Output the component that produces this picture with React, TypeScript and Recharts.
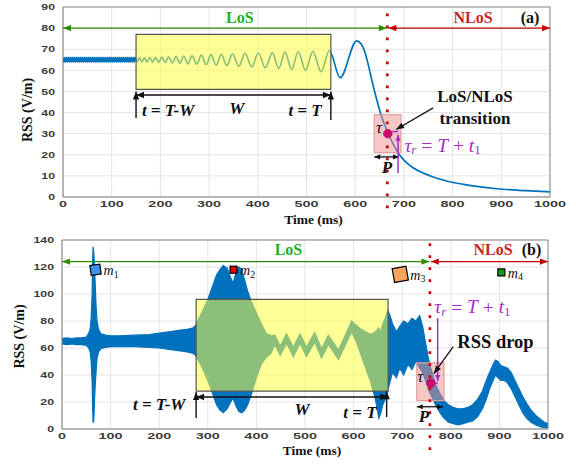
import React from 'react';
import {
  ComposedChart, Line, Area, XAxis, YAxis, CartesianGrid,
  ReferenceArea, ReferenceLine, ReferenceDot,
} from 'recharts';

// ---------- data ----------
const X_TICKS = [0, 100, 200, 300, 400, 500, 600, 700, 800, 900, 1000];
const A_Y_TICKS = [0, 10, 20, 30, 40, 50, 60, 70, 80, 90];
const B_Y_TICKS = [0, 20, 40, 60, 80, 100, 120, 140];

// panel (a): RSS in LoS then transition to NLoS
const aTime = [
  0, 2, 4, 6, 8, 10, 12, 14, 16, 18, 20, 22, 24, 26, 28, 30, 32, 34, 36, 38,
  40, 42, 44, 46, 48, 50, 52, 54, 56, 58, 60, 62, 64, 66, 68, 70, 72, 74, 76, 78,
  80, 82, 84, 86, 88, 90, 92, 94, 96, 98, 100, 102, 104, 106, 108, 110, 112, 114, 116, 118,
  120, 122, 124, 126, 128, 130, 132, 134, 136, 138, 140, 142, 144, 146, 148,
  152.5, 157, 162, 167, 172.5, 178, 184, 190, 196.5, 203, 210, 217, 224.5, 232, 240, 248,
  256.5, 265, 274.5, 284, 294, 304, 314.5, 325, 336.5, 348, 361, 374, 387.5, 401, 415.5,
  430, 443, 456, 469.5, 483, 498, 513, 530, 547, 569, 603,
  612, 620, 628, 635, 645, 655, 667, 678, 688, 700, 718, 740, 760, 788, 820, 850, 891, 950, 1000,
];
const aRss = [
  66.1, 63.9, 66.1, 63.9, 66.1, 63.9, 66.1, 63.9, 66.1, 63.9, 66.1, 63.9, 66.1, 63.9, 66.1, 63.9, 66.1, 63.9, 66.1, 63.9,
  66.1, 63.9, 66.1, 63.9, 66.1, 63.9, 66.1, 63.9, 66.1, 63.9, 66.1, 63.9, 66.1, 63.9, 66.1, 63.9, 66.1, 63.9, 66.1, 63.9,
  66.1, 63.9, 66.1, 63.9, 66.1, 63.9, 66.1, 63.9, 66.1, 63.9, 66.1, 63.9, 66.1, 63.9, 66.1, 63.9, 66.1, 63.9, 66.1, 63.9,
  66.1, 63.9, 66.1, 63.9, 66.1, 63.9, 66.1, 63.9, 66.1, 63.9, 66.1, 63.9, 66.1, 63.9, 66.1,
  64.0, 66.0, 64.0, 66.0, 63.9, 66.1, 63.9, 66.2, 63.8, 66.3, 63.7, 66.4, 63.5, 66.6, 63.3, 66.8,
  63.1, 67.0, 62.9, 67.2, 62.7, 67.4, 62.4, 67.6, 62.2, 67.8, 61.9, 68.0, 61.6, 68.2, 61.2,
  68.4, 60.8, 68.6, 60.4, 68.8, 60.0, 69.0, 59.3, 69.4, 56.5, 74.0,
  72.6, 68.5, 61.5, 54.5, 45.5, 37.5, 30.5, 25, 21, 17.5, 14, 11.3, 9.5, 7.6, 6.1, 5.0, 3.9, 3.0, 2.4,
];

// panel (b): noisy RSS, envelope (low / high) of the measured signal
const bTime = [
  0, 10, 20, 30, 40, 50, 55, 58, 60, 62, 63, 64, 65, 66, 67, 68, 70, 72, 75, 80,
  90, 100, 120, 150, 180, 200, 220, 240, 260, 270, 276, 282, 290, 300, 310, 318, 325, 332, 340, 347,
  352, 358, 364, 370, 376, 382, 390, 400, 410, 420, 430, 438, 449, 462, 476, 490, 503, 520, 534, 548,
  569, 596, 605, 615, 625, 635, 645, 652, 656, 660, 665, 670, 675, 680, 688, 695, 703, 712, 720, 728,
  736, 742, 748, 753, 758, 763, 770, 778, 786, 795, 805, 815, 825, 835, 845, 855, 865, 873, 880, 887,
  892, 897, 903, 910, 917, 924, 932, 940, 948, 956, 965, 975, 985, 993, 1000,
];
const bLow = [
  63, 62.5, 63, 62.5, 62.5, 62, 60, 57, 50, 35, 15, 5, 5, 12, 22, 30, 42, 52, 57, 59.5,
  60.5, 61, 61, 61, 60.5, 60, 59, 58, 57, 56, 54, 50, 44, 36, 26, 18, 14, 12, 15, 20,
  23, 17, 13, 12, 14, 18, 26, 38, 48, 53, 56, 62.5, 54.5, 63.5, 53.5, 63.5, 53.5, 64.5, 52.5, 62.5,
  51.5, 72, 65, 55, 45, 35, 22, 8, 12, 18, 22, 28, 35, 42, 38, 45, 40, 48, 44, 50,
  45, 42, 36, 30, 26, 22, 17, 12, 8, 5, 4, 3, 4, 5, 6, 9, 15, 22, 30, 36,
  40, 38, 36, 36, 34, 30, 24, 18, 12, 8, 5, 3, 1.5, 1, 1,
];
const bHigh = [
  67, 67.5, 67, 67.5, 67.5, 68, 71, 74, 82, 100, 125, 135, 132, 127, 120, 110, 92, 80, 74, 70.5,
  69.5, 69, 69, 69.5, 70, 71, 72, 73, 74, 75, 77, 82, 88, 96, 106, 114, 118, 121, 119, 112,
  108, 116, 120, 118, 110, 102, 94, 86, 78, 71, 69, 69.5, 61.5, 70.5, 60.5, 70.5, 60.5, 71.5, 59.5, 69.5,
  58.5, 80, 77, 74, 72, 70, 72, 75, 72, 78, 82, 88, 84, 78, 72, 76, 80, 78, 82, 80,
  84, 76, 64, 54, 46, 40, 32, 26, 21, 18, 16, 15, 15, 16, 18, 22, 28, 36, 42, 48,
  51, 50, 47, 46, 45, 42, 36, 30, 24, 19, 14, 10, 7, 5, 4,
];

const markerNames = ['1', '2', '3', '4'];
const markerTime = [69, 353, 696, 904];
const markerRss = [118, 118, 114.5, 116];
const markerColors = ['#3a92ea', '#e40000', '#f7a35c', '#139a13'];
const markerSizes = [10, 7, 14, 7];
const markerTilt = [-8, 0, -10, 0];

const aData = aTime.map((t, i) => ({ t, rss: aRss[i] }));
const bData = bTime.map((t, i) => ({ t, band: [bLow[i], bHigh[i]] }));

// ---------- styles / helpers ----------
const SERIF = '"Liberation Serif", "Times New Roman", serif';
const SANS = '"Liberation Sans", Arial, sans-serif';
const BLUE = '#0072bd';
const GREEN_ARROW = '#2f8a00';
const RED_ARROW = '#c40000';
const PURPLE = '#a22fc2';

const XTick = (props: any) => {
  const { x, y, payload } = props;
  return (
    <text transform={`translate(${x},${y + 7.5}) scale(1.7,1)`} textAnchor="middle"
      dominantBaseline="central" fontFamily={SANS} fontWeight="bold" fontSize={8.5} fill="#3c3c3c">
      {payload.value}
    </text>
  );
};
const YTick = (props: any) => {
  const { x, y, payload } = props;
  return (
    <text transform={`translate(${x - 8},${y}) scale(1.45,1)`} textAnchor="end"
      dominantBaseline="central" fontFamily={SANS} fontWeight="bold" fontSize={8.5} fill="#3c3c3c">
      {payload.value}
    </text>
  );
};

function arrowShape(color: string, start: boolean, end: boolean, width = 1.3, headLen = 8, headW = 3.2) {
  return (p: any) => {
    const { x1, y1, x2, y2 } = p;
    const dx = x2 - x1, dy = y2 - y1;
    const len = Math.hypot(dx, dy) || 1;
    const ux = dx / len, uy = dy / len;
    const head = (tx: number, ty: number, dirx: number, diry: number) => {
      const bx = tx - dirx * headLen, by = ty - diry * headLen;
      const px = -diry * headW, py = dirx * headW;
      return <polygon points={`${tx},${ty} ${bx + px},${by + py} ${bx - px},${by - py}`} fill={color} />;
    };
    return (
      <g>
        <line x1={x1} y1={y1} x2={x2} y2={y2} stroke={color} strokeWidth={width} />
        {start && head(x1, y1, -ux, -uy)}
        {end && head(x2, y2, ux, uy)}
      </g>
    );
  };
}

function textShape(content: React.ReactNode, style: any, anchor = 'middle') {
  return (p: any) => (
    <text x={p.cx} y={p.cy} textAnchor={anchor} dominantBaseline="central" fontFamily={SERIF} {...style}>
      {content}
    </text>
  );
}

const tauR = (
  <>
    τ<tspan dy={4} fontSize={13}>r</tspan>
    <tspan dy={-4} fontStyle="normal"> = </tspan>T<tspan fontStyle="normal"> + </tspan>t
    <tspan dy={4} fontSize={13} fontStyle="normal">1</tspan>
  </>
);

function markerShape(i: number) {
  return (p: any) => {
    const s = markerSizes[i];
    return (
      <g>
        <rect x={p.cx - s / 2} y={p.cy - s / 2} width={s} height={s} fill={markerColors[i]}
          stroke="#000" strokeWidth={1.2} transform={`rotate(${markerTilt[i]},${p.cx},${p.cy})`} />
        <text x={p.cx + s / 2 + 3} y={p.cy + 1} dominantBaseline="central" fontFamily={SERIF}
          fontStyle="italic" fontSize={14} fill="#111">
          m<tspan dy={3} fontSize={10} fontStyle="normal">{markerNames[i]}</tspan>
        </text>
      </g>
    );
  };
}

const yLabel = (cx: number, cyOff: number) => (p: any) => {
  const vb = p.viewBox || { x: 0, y: 0, width: 0, height: 0 };
  const cy = vb.y + vb.height / 2 + cyOff;
  return (
    <text transform={`translate(${cx},${cy}) rotate(-90)`} textAnchor="middle" dominantBaseline="central"
      fontFamily={SERIF} fontWeight="bold" fontSize={14} fill="#111">RSS (V/m)</text>
  );
};
const xLabel = (dyOff: number) => (p: any) => {
  const vb = p.viewBox || { x: 0, y: 0, width: 0, height: 0 };
  return (
    <text x={vb.x + vb.width / 2 + 7} y={vb.y + dyOff} textAnchor="middle" dominantBaseline="central"
      fontFamily={SERIF} fontWeight="bold" fontSize={13.5} fill="#111">Time (ms)</text>
  );
};

const TXT = { fontFamily: SERIF };

export default function App() {
  return (
    <div style={{ position: 'absolute', left: 0, top: 0, width: 576, height: 464, background: '#fff' }}>
      {/* ---------- panel (a) ---------- */}
      <div style={{ position: 'absolute', left: 0, top: 0 }}>
        <ComposedChart width={576} height={232} data={aData} margin={{ top: 7, right: 26, left: 13, bottom: 10 }}>
          <CartesianGrid stroke="#e4e4e4" />
          <XAxis dataKey="t" type="number" domain={[0, 1000]} ticks={X_TICKS} allowDataOverflow interval={0}
            tick={<XTick />} tickLine={false} tickSize={0} tickMargin={0} height={25}
            axisLine={{ stroke: '#7a7a7a' }} label={xLabel(22)} />
          <YAxis type="number" domain={[0, 90]} ticks={A_Y_TICKS} allowDataOverflow width={50} interval={0}
            tick={<YTick />} tickLine={false} tickSize={0} tickMargin={0}
            axisLine={{ stroke: '#7a7a7a' }} label={yLabel(27.5, 8)} />
          <ReferenceLine y={90} stroke="#8a8a8a" />
          <ReferenceLine x={1000} stroke="#8a8a8a" />
          <Line dataKey="rss" type="monotone" stroke={BLUE} strokeWidth={1.7} dot={false} isAnimationActive={false} />
          <ReferenceArea x1={150} x2={550} y1={51} y2={77} fill="#ffff44" fillOpacity={0.55}
            stroke="#555" strokeWidth={1.2} zIndex={450} />
          <ReferenceArea x1={639} x2={694} y1={21} y2={39} fill="#f09090" fillOpacity={0.5}
            stroke="#e0a0a0" strokeWidth={1.2} zIndex={450} />
          <ReferenceLine segment={[{ x: 666, y: -5.3 }, { x: 666, y: 87.5 }]} stroke="#cc0000"
            strokeWidth={2.7} strokeDasharray="2.7 9.3" ifOverflow="visible" zIndex={700} />
          <ReferenceLine segment={[{ x: 0, y: 80 }, { x: 665, y: 80 }]} ifOverflow="visible" zIndex={700}
            shape={arrowShape(GREEN_ARROW, true, true)} />
          <ReferenceLine segment={[{ x: 668, y: 80 }, { x: 1000, y: 80 }]} ifOverflow="visible" zIndex={700}
            shape={arrowShape(RED_ARROW, true, true)} />
          <ReferenceLine segment={[{ x: 150, y: 48.3 }, { x: 550, y: 48.3 }]} ifOverflow="visible" zIndex={700}
            shape={arrowShape('#111', true, true, 1.4)} />
          <ReferenceLine segment={[{ x: 150, y: 37.4 }, { x: 150, y: 50 }]} ifOverflow="visible" zIndex={700}
            shape={arrowShape('#111', false, true, 1.4)} />
          <ReferenceLine segment={[{ x: 550, y: 36.5 }, { x: 550, y: 50 }]} ifOverflow="visible" zIndex={700}
            shape={arrowShape('#111', false, true, 1.4)} />
          <ReferenceLine segment={[{ x: 639, y: 19 }, { x: 690, y: 19 }]} ifOverflow="visible" zIndex={700}
            shape={arrowShape('#111', true, true, 1.3, 6, 2.6)} />
          <ReferenceLine segment={[{ x: 688, y: 11.4 }, { x: 688, y: 29.5 }]} ifOverflow="visible" zIndex={700}
            shape={arrowShape(PURPLE, false, true, 1.5, 6, 2.6)} />
          <ReferenceLine segment={[{ x: 676, y: 31 }, { x: 688, y: 31 }]} ifOverflow="visible" zIndex={700}
            stroke={PURPLE} strokeWidth={1.5} />
          <ReferenceLine segment={[{ x: 760, y: 42.2 }, { x: 684, y: 32 }]} ifOverflow="visible" zIndex={700}
            shape={arrowShape('#111', false, true, 1.3, 8, 3)} />
          <ReferenceDot x={667} y={30} r={4.2} fill="#cc0a6e" stroke="#cc0a6e" zIndex={750} ifOverflow="visible" />
          <ReferenceDot x={363} y={84.8} ifOverflow="visible" zIndex={800}
            shape={textShape('LoS', { ...TXT, fill: '#20b020', fontSize: 16, fontWeight: 'bold' })} />
          <ReferenceDot x={842} y={84.8} ifOverflow="visible" zIndex={800}
            shape={textShape('NLoS', { ...TXT, fill: '#cc1f1f', fontSize: 16, fontWeight: 'bold' })} />
          <ReferenceDot x={959} y={84.8} ifOverflow="visible" zIndex={800}
            shape={textShape('(a)', { ...TXT, fill: '#111', fontSize: 16, fontWeight: 'bold' })} />
          <ReferenceDot x={162} y={41} ifOverflow="visible" zIndex={800}
            shape={textShape('t = T-W', { ...TXT, fill: '#111', fontSize: 17, fontWeight: 'bold', fontStyle: 'italic' }, 'start')} />
          <ReferenceDot x={357} y={42} ifOverflow="visible" zIndex={800}
            shape={textShape('W', { ...TXT, fill: '#111', fontSize: 17, fontWeight: 'bold', fontStyle: 'italic' })} />
          <ReferenceDot x={497} y={41} ifOverflow="visible" zIndex={800}
            shape={textShape('t = T', { ...TXT, fill: '#111', fontSize: 17, fontWeight: 'bold', fontStyle: 'italic' })} />
          <ReferenceDot x={649} y={33} ifOverflow="visible" zIndex={800}
            shape={textShape('τ', { ...TXT, fill: '#111', fontSize: 17, fontStyle: 'italic' })} />
          <ReferenceDot x={701} y={24.6} ifOverflow="visible" zIndex={800}
            shape={textShape(tauR, { ...TXT, fill: PURPLE, fontSize: 19.5, fontStyle: 'italic' }, 'start')} />
          <ReferenceDot x={665} y={14} ifOverflow="visible" zIndex={800}
            shape={textShape('P', { ...TXT, fill: '#111', fontSize: 17, fontWeight: 'bold', fontStyle: 'italic' })} />
          <ReferenceDot x={846} y={47.4} ifOverflow="visible" zIndex={800}
            shape={textShape('LoS/NLoS', { ...TXT, fill: '#111', fontSize: 17, fontWeight: 'bold' })} />
          <ReferenceDot x={846} y={37.4} ifOverflow="visible" zIndex={800}
            shape={textShape('transition', { ...TXT, fill: '#111', fontSize: 17, fontWeight: 'bold' })} />
        </ComposedChart>
      </div>

      {/* ---------- panel (b) ---------- */}
      <div style={{ position: 'absolute', left: 0, top: 232 }}>
        <ComposedChart width={576} height={232} data={bData} margin={{ top: 8, right: 28, left: 12, bottom: 10 }}>
          <CartesianGrid stroke="#e4e4e4" />
          <XAxis dataKey="t" type="number" domain={[0, 1000]} ticks={X_TICKS} allowDataOverflow interval={0}
            tick={<XTick />} tickLine={false} tickSize={0} tickMargin={0} height={25}
            axisLine={{ stroke: '#7a7a7a' }} label={xLabel(21)} />
          <YAxis type="number" domain={[0, 140]} ticks={B_Y_TICKS} allowDataOverflow width={50} interval={0}
            tick={<YTick />} tickLine={false} tickSize={0} tickMargin={0}
            axisLine={{ stroke: '#7a7a7a' }} label={yLabel(19.5, 2)} />
          <ReferenceLine y={140} stroke="#8a8a8a" />
          <ReferenceLine x={1000} stroke="#8a8a8a" />
          <Area dataKey="band" type="linear" stroke={BLUE} strokeWidth={1.2} fill={BLUE} fillOpacity={1}
            dot={false} activeDot={false} isAnimationActive={false} />
          <ReferenceArea x1={276} x2={671} y1={28} y2={96} fill="#ffff44" fillOpacity={0.55}
            stroke="#555" strokeWidth={1.2} zIndex={450} />
          <ReferenceArea x1={730} x2={786} y1={21} y2={49} fill="#f09090" fillOpacity={0.5}
            stroke="#e0a0a0" strokeWidth={1.2} zIndex={450} />
          <ReferenceLine segment={[{ x: 757, y: -15.6 }, { x: 757, y: 138.5 }]} stroke="#cc0000"
            strokeWidth={2.7} strokeDasharray="2.7 9.3" ifOverflow="visible" zIndex={700} />
          <ReferenceLine segment={[{ x: 0, y: 124 }, { x: 756, y: 124 }]} ifOverflow="visible" zIndex={700}
            shape={arrowShape(GREEN_ARROW, true, true)} />
          <ReferenceLine segment={[{ x: 759, y: 124 }, { x: 1000, y: 124 }]} ifOverflow="visible" zIndex={700}
            shape={arrowShape(RED_ARROW, true, true)} />
          <ReferenceLine segment={[{ x: 276, y: 23.7 }, { x: 671, y: 23.7 }]} ifOverflow="visible" zIndex={700}
            shape={arrowShape('#111', true, true, 1.4)} />
          <ReferenceLine segment={[{ x: 276, y: 8.1 }, { x: 276, y: 27.5 }]} ifOverflow="visible" zIndex={700}
            shape={arrowShape('#111', false, true, 1.4)} />
          <ReferenceLine segment={[{ x: 668, y: 8.9 }, { x: 668, y: 28 }]} ifOverflow="visible" zIndex={700}
            shape={arrowShape('#111', false, true, 1.4)} />
          <ReferenceLine segment={[{ x: 730, y: 16.5 }, { x: 784, y: 16.5 }]} ifOverflow="visible" zIndex={700}
            shape={arrowShape('#111', true, true, 1.3, 6, 2.6)} />
          <ReferenceLine segment={[{ x: 773, y: 82 }, { x: 773, y: 35.5 }]} ifOverflow="visible" zIndex={700}
            shape={arrowShape(PURPLE, false, true, 1.5, 6, 2.6)} />
          <ReferenceLine segment={[{ x: 764, y: 34 }, { x: 773, y: 34 }]} ifOverflow="visible" zIndex={700}
            stroke={PURPLE} strokeWidth={1.5} />
          <ReferenceLine segment={[{ x: 805, y: 61 }, { x: 765, y: 41 }]} ifOverflow="visible" zIndex={700}
            shape={arrowShape('#111', false, true, 1.3, 8, 3)} />
          <ReferenceDot x={759} y={34} r={4.2} fill="#cc0a6e" stroke="#cc0a6e" zIndex={750} ifOverflow="visible" />
          {markerTime.map((t, i) => (
            <ReferenceDot key={i} x={t} y={markerRss[i]} ifOverflow="visible" zIndex={800} shape={markerShape(i)} />
          ))}
          <ReferenceDot x={466} y={132.6} ifOverflow="visible" zIndex={800}
            shape={textShape('LoS', { ...TXT, fill: '#20b020', fontSize: 16, fontWeight: 'bold' })} />
          <ReferenceDot x={887} y={132.6} ifOverflow="visible" zIndex={800}
            shape={textShape('NLoS', { ...TXT, fill: '#cc1f1f', fontSize: 16, fontWeight: 'bold' })} />
          <ReferenceDot x={966} y={132.6} ifOverflow="visible" zIndex={800}
            shape={textShape('(b)', { ...TXT, fill: '#111', fontSize: 16, fontWeight: 'bold' })} />
          <ReferenceDot x={146} y={17.8} ifOverflow="visible" zIndex={800}
            shape={textShape('t = T-W', { ...TXT, fill: '#111', fontSize: 17, fontWeight: 'bold', fontStyle: 'italic' }, 'start')} />
          <ReferenceDot x={494} y={14.8} ifOverflow="visible" zIndex={800}
            shape={textShape('W', { ...TXT, fill: '#111', fontSize: 17, fontWeight: 'bold', fontStyle: 'italic' })} />
          <ReferenceDot x={613} y={11.9} ifOverflow="visible" zIndex={800}
            shape={textShape('t = T', { ...TXT, fill: '#111', fontSize: 17, fontWeight: 'bold', fontStyle: 'italic' })} />
          <ReferenceDot x={737} y={38.7} ifOverflow="visible" zIndex={800}
            shape={textShape('τ', { ...TXT, fill: '#111', fontSize: 17, fontStyle: 'italic' })} />
          <ReferenceDot x={766} y={90.6} ifOverflow="visible" zIndex={800}
            shape={textShape(tauR, { ...TXT, fill: PURPLE, fontSize: 19.5, fontStyle: 'italic' }, 'start')} />
          <ReferenceDot x={892} y={64.7} ifOverflow="visible" zIndex={800}
            shape={textShape('RSS drop', { ...TXT, fill: '#111', fontSize: 18.5, fontWeight: 'bold' })} />
          <ReferenceDot x={745} y={9} ifOverflow="visible" zIndex={800}
            shape={textShape('P', { ...TXT, fill: '#111', fontSize: 17, fontWeight: 'bold', fontStyle: 'italic' })} />
        </ComposedChart>
      </div>
    </div>
  );
}
